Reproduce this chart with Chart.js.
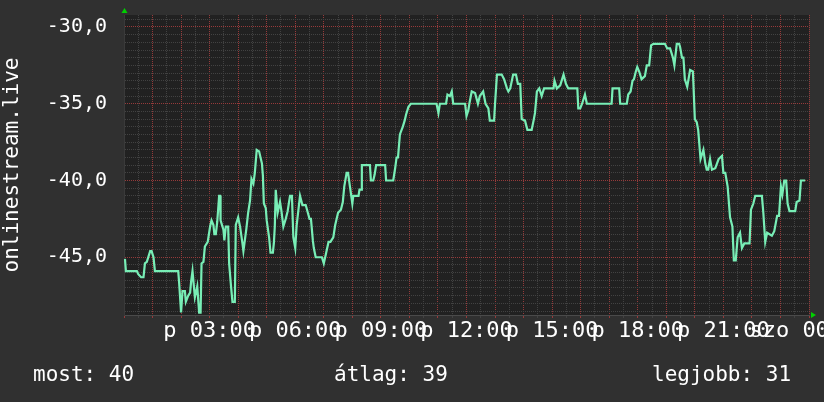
<!DOCTYPE html>
<html>
<head>
<meta charset="utf-8">
<script src="https://cdn.jsdelivr.net/npm/chart.js@4/dist/chart.umd.min.js"></script>
<style>
  html, body { margin:0; padding:0; background:#303030; }
  #wrap { position:relative; width:824px; height:402px; background:#303030; overflow:hidden; }
  canvas { position:absolute; left:0; top:0; }
  .stat { position:absolute; top:364px; font-family:"DejaVu Sans Mono", monospace; font-size:21px; line-height:21px; color:#ffffff; white-space:pre; }
</style>
</head>
<body>
<div id="wrap">
  <canvas id="c" width="824" height="402"></canvas>
  <div class="stat" id="s0" style="left:33px"></div>
  <div class="stat" id="s1" style="left:334px"></div>
  <div class="stat" id="s2" style="left:652px"></div>
</div>
<script>
// ---- data (time in minutes since Friday 00:00, value) ----
const minutes = [2,4,27,30,36,41,44,48,55,58,62,65,114,116,120,123,128,130,135,139,141,144,149,154,158,161,163,167,170,176,181,184,188,190,193,196,200,202,203,209,211,214,219,221,225,228,233,235,240,244,249,251,254,257,261,265,268,272,275,279,284,290,292,294,298,300,305,308,313,315,317,319,323,328,331,335,340,344,349,353,356,360,363,370,375,382,390,393,397,399,403,416,420,425,430,434,440,444,450,456,460,463,468,471,475,480,482,493,495,499,500,517,519,524,527,530,549,551,566,570,573,576,580,586,590,593,598,603,657,661,664,677,680,685,689,692,717,720,724,726,731,738,744,748,755,760,766,769,778,780,784,794,799,805,808,812,818,824,828,833,836,843,848,857,861,864,868,873,878,883,903,905,910,917,924,929,934,953,955,959,963,969,973,1025,1027,1041,1043,1057,1060,1065,1069,1072,1076,1079,1083,1088,1095,1099,1104,1108,1113,1137,1142,1148,1154,1157,1162,1167,1169,1173,1176,1179,1184,1190,1196,1200,1204,1207,1212,1218,1222,1225,1228,1232,1236,1243,1250,1257,1260,1264,1269,1274,1279,1282,1286,1290,1295,1299,1304,1315,1318,1323,1327,1341,1344,1348,1352,1362,1367,1373,1377,1381,1384,1388,1392,1395,1399,1411,1414,1420,1423,1432];
const values = [-45.1,-45.9,-45.9,-46.1,-46.3,-46.3,-45.4,-45.3,-44.6,-44.6,-45.0,-45.9,-45.9,-46.7,-48.6,-47.2,-47.2,-47.9,-47.5,-47.3,-46.6,-45.9,-47.6,-46.9,-48.6,-48.6,-45.4,-45.3,-44.3,-44.0,-43.0,-42.6,-42.9,-43.5,-43.5,-42.7,-41.0,-41.0,-42.6,-43.2,-43.9,-43.0,-43.0,-45.4,-46.9,-47.9,-47.9,-42.9,-42.4,-43.0,-44.1,-44.6,-43.9,-43.2,-42.1,-41.3,-39.9,-40.2,-39.5,-38.0,-38.1,-38.9,-39.7,-41.5,-41.8,-42.6,-43.7,-44.7,-44.7,-44.1,-43.0,-40.6,-42.1,-41.4,-42.0,-43.0,-42.5,-42.0,-41.0,-41.0,-43.7,-44.4,-42.9,-41.0,-41.6,-41.6,-42.5,-42.5,-43.9,-44.4,-45.0,-45.0,-45.4,-44.7,-44.0,-44.0,-43.7,-42.9,-42.1,-41.9,-41.4,-40.4,-39.5,-39.5,-40.4,-41.5,-41.0,-41.0,-40.6,-40.6,-39.0,-39.0,-40.0,-40.0,-39.6,-39.0,-39.0,-40.0,-40.0,-39.2,-38.5,-38.5,-37.0,-36.5,-36.1,-35.7,-35.2,-35.0,-35.0,-35.6,-35.0,-35.0,-34.4,-34.5,-34.2,-35.0,-35.0,-35.8,-35.4,-35.0,-34.2,-34.3,-35.0,-34.5,-34.2,-35.0,-35.3,-36.1,-36.1,-35.0,-33.1,-33.1,-33.4,-34.0,-34.2,-34.0,-33.1,-33.1,-33.7,-33.7,-36.0,-36.1,-36.7,-36.7,-36.1,-35.6,-34.2,-34.0,-34.5,-34.0,-34.0,-33.5,-34.0,-33.8,-33.1,-33.7,-34.0,-34.0,-35.3,-35.3,-35.0,-34.4,-35.0,-35.0,-34.0,-34.0,-35.0,-35.0,-34.4,-34.2,-33.5,-33.4,-32.9,-32.6,-32.9,-33.4,-33.2,-32.5,-32.5,-31.2,-31.1,-31.1,-31.4,-31.4,-32.0,-32.5,-31.1,-31.1,-31.3,-32.0,-32.0,-33.4,-33.9,-32.8,-32.9,-36.0,-36.2,-36.7,-38.6,-38.0,-38.9,-39.3,-39.3,-38.6,-39.3,-39.2,-38.6,-38.4,-39.5,-39.5,-40.4,-42.4,-43.0,-45.2,-45.2,-43.7,-43.4,-44.4,-44.1,-44.1,-41.9,-41.5,-41.0,-41.0,-42.1,-44.0,-43.4,-43.6,-43.3,-42.3,-42.3,-40.4,-40.9,-40.0,-40.0,-41.5,-42.0,-42.0,-41.4,-41.3,-40.0,-40.0];

const tickMinutes = [180,360,540,720,900,1080,1260,1440];
const tickLabels  = ["p 03:00","p 06:00","p 09:00","p 12:00","p 15:00","p 18:00","p 21:00","szo 00:00"];
const yLabelValues = [-30,-35,-40,-45];
const yLabels      = ["-30,0","-35,0","-40,0","-45,0"];
const axisTitle = "onlinestream.live";
const statLabels = ["most: 40","átlag: 39","legjobb: 31"];

document.getElementById('s0').textContent = statLabels[0];
document.getElementById('s1').textContent = statLabels[1];
document.getElementById('s2').textContent = statLabels[2];

const points = minutes.map((m,i)=>({x:m, y:values[i]}));

const MONO = '"DejaVu Sans Mono", monospace';
const RED = 'rgb(150,58,58)';
const GREY = 'rgb(66,66,66)';

const isMajorX = v => Math.round(v) % 60 === 0;
const isMajorY = v => Math.abs(Math.round(v*2) % 10) === 0;

const bgPlugin = {
  id:'bg',
  beforeDraw(chart){
    const {ctx, chartArea:a} = chart;
    ctx.save();
    ctx.fillStyle = '#212121';
    ctx.fillRect(a.left, a.top, a.right-a.left, a.bottom-a.top);
    ctx.restore();
  },
  afterDraw(chart){
    const {ctx, chartArea:a} = chart;
    ctx.save();
    ctx.fillStyle = '#00d000';
    ctx.beginPath();
    ctx.moveTo(a.left-2.5, a.top-2);
    ctx.lineTo(a.left+3.5, a.top-2);
    ctx.lineTo(a.left+0.5, a.top-7);
    ctx.closePath(); ctx.fill();
    ctx.beginPath();
    ctx.moveTo(a.right+2, a.bottom-3);
    ctx.lineTo(a.right+2, a.bottom+3);
    ctx.lineTo(a.right+7, a.bottom);
    ctx.closePath(); ctx.fill();
    ctx.restore();
  }
};

new Chart(document.getElementById('c'), {
  type:'line',
  data:{ datasets:[{
    data: points,
    borderColor:'#78eeb6',
    borderWidth:2.2,
    pointRadius:0,
    tension:0,
    fill:false
  }]},
  options:{
    responsive:false,
    animation:false,
    events:[],
    layout:{ padding:{ left:0, top:15, right:15, bottom:0 } },
    plugins:{ legend:{display:false}, tooltip:{enabled:false} },
    scales:{
      x:{
        type:'linear', min:0, max:1440,
        afterBuildTicks(scale){
          const t=[]; for(let m=0;m<=1440;m+=30) t.push({value:m});
          scale.ticks=t;
        },
        afterFit(scale){ scale.height = 87; scale.paddingLeft=0; scale.paddingRight=0; },
        ticks:{
          autoSkip:false, maxRotation:0, minRotation:0, padding:0,
          color:'#ffffff', font:{family:MONO, size:22},
          callback(v){ const i = tickMinutes.indexOf(v); return i>=0 ? tickLabels[i] : ''; }
        },
        grid:{
          drawOnChartArea:true, drawTicks:true, tickLength:3,
          lineWidth(ctx){ return ctx.tick && isMajorX(ctx.tick.value) ? 1 : 1; },
          color(ctx){ return ctx.tick && isMajorX(ctx.tick.value) ? RED : GREY; },
          tickColor(ctx){ return ctx.tick && isMajorX(ctx.tick.value) ? RED : GREY; }
        },
        border:{ display:true, color:'#4a4a4a', dash:[1,1] }
      },
      y:{
        type:'linear', min:-48.76, max:-29.22,
        afterBuildTicks(scale){
          const t=[]; for(let k=-97;k<=-59;k++) t.push({value:k/2});
          scale.ticks=t;
        },
        afterFit(scale){ scale.width = 124; scale.paddingTop=0; scale.paddingBottom=0; },
        ticks:{
          autoSkip:false, padding:17,
          color:'#ffffff', font:{family:MONO, size:20},
          callback(v){ const i = yLabelValues.indexOf(v); return i>=0 ? yLabels[i] : ''; }
        },
        grid:{
          drawTicks:false, lineWidth:1,
          color(ctx){ return ctx.tick && isMajorY(ctx.tick.value) ? RED : GREY; }
        },
        border:{ display:true, color:'#3a3a3a', dash:[1,1] },
        title:{
          display:true, text:axisTitle, color:'#ffffff',
          font:{family:MONO, size:21, lineHeight:1.2}, padding:0
        }
      }
    }
  },
  plugins:[bgPlugin]
});
</script>
</body>
</html>
